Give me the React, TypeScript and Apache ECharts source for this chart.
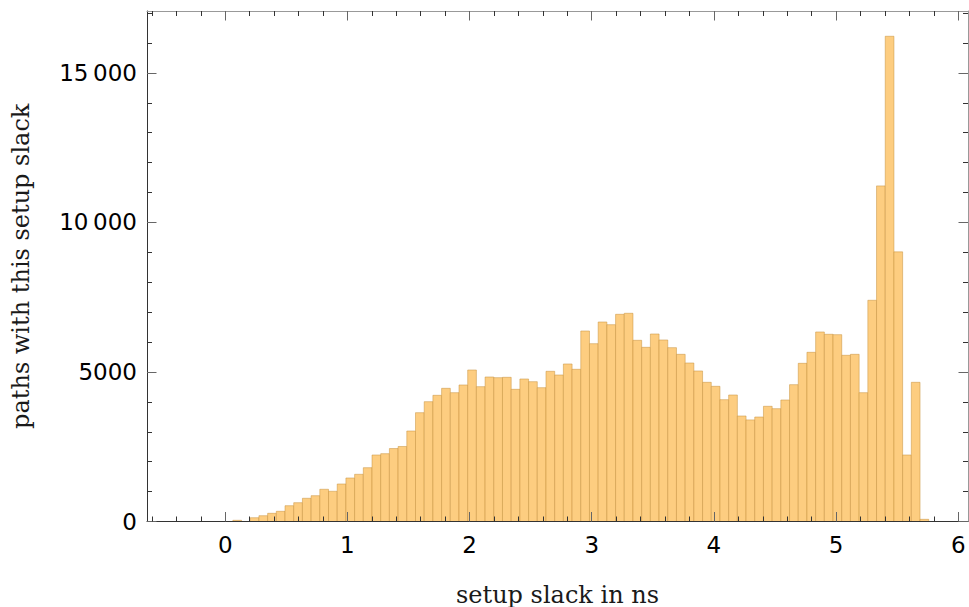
import React, { useEffect, useRef } from 'react';
import * as echarts from 'echarts';

// Histogram bins: 80 equal bins from the data minimum
const BIN_START = 0.0626;
const BIN_WIDTH = 0.0712;
const COUNTS = [
  40, 0, 127, 194, 274, 341, 528, 629, 776, 863,
  1077, 1010, 1254, 1455, 1578, 1799, 2224, 2268, 2440, 2508,
  3026, 3639, 4007, 4219, 4453, 4308, 4565, 5066, 4509, 4832,
  4810, 4821, 4420, 4765, 4676, 4475, 5022, 4899, 5267, 5089,
  6370, 5946, 6671, 6582, 6928, 6962, 6059, 5824, 6270, 6070,
  5813, 5590, 5300, 5033, 4654, 4520, 4074, 4230, 3528, 3398,
  3494, 3852, 3773, 4063, 4576, 5289, 5657, 6337, 6260, 6248,
  5557, 5590, 4308, 7397, 11222, 16225, 9016, 2224, 4654, 73,
];

const X_MAJOR_TICKS = [0, 1, 2, 3, 4, 5, 6];
const X_MINOR_TICKS = [-0.6, -0.4, -0.2, 0.2, 0.4, 0.6, 0.8, 1.2, 1.4, 1.6, 1.8, 2.2, 2.4, 2.6, 2.8, 3.2, 3.4, 3.6, 3.8, 4.2, 4.4, 4.6, 4.8, 5.2, 5.4, 5.6, 5.8];
const X_TICK_LABELS = ['0', '1', '2', '3', '4', '5', '6'];
const Y_MAJOR_TICKS = [0, 5000, 10000, 15000];
const Y_MINOR_TICKS = [1000, 2000, 3000, 4000, 6000, 7000, 8000, 9000, 11000, 12000, 13000, 14000, 16000, 17000];
const Y_TICK_LABELS = ['0', '5000', '10\u2009000', '15\u2009000'];

const X_MIN = -0.64;
const X_MAX = 6.08;
const Y_MIN = 0;
const Y_MAX = 17070;

const X_TITLE = 'setup slack in ns';
const Y_TITLE = 'paths with this setup slack';

const GRID = { left: 147, top: 11, right: 1, bottom: 85.5 };

export default function App() {
  const ref = useRef<HTMLDivElement>(null);

  useEffect(() => {
    if (!ref.current) return;
    const chart = echarts.init(ref.current, undefined, { renderer: 'svg' });

    const data = COUNTS.map((c, i) => [BIN_START + i * BIN_WIDTH, BIN_START + (i + 1) * BIN_WIDTH, c]);

    const tickFont = { fontFamily: 'DejaVu Sans', fontSize: 23, color: '#000' };
    const titleFont = { fontFamily: 'DejaVu Serif', fontSize: 24, color: '#1a1a1a' };

    const xAxisBase = (gridIndex: number, position: string) => ({
      type: 'value',
      gridIndex,
      position,
      min: X_MIN,
      max: X_MAX,
      z: 10,
      splitLine: { show: false },
    });
    const yAxisBase = (gridIndex: number, position: string) => ({
      type: 'value',
      gridIndex,
      position,
      min: Y_MIN,
      max: Y_MAX,
      z: 10,
      splitLine: { show: false },
    });

    const majorTick = (vals: number[]) => ({
      show: true,
      inside: true,
      length: 9.5,
      customValues: vals,
      lineStyle: { color: '#666', width: 1 },
    });
    const minorTick = (vals: number[]) => ({
      show: true,
      inside: true,
      length: 5,
      customValues: vals,
      lineStyle: { color: '#333', width: 1 },
    });

    const option: any = {
      animation: false,
      grid: [
        { ...GRID, containLabel: false, outerBoundsMode: 'none' },
        { ...GRID, containLabel: false, outerBoundsMode: 'none' },
      ],
      xAxis: [
        {
          ...xAxisBase(0, 'bottom'),
          axisLine: { show: true, onZero: false, lineStyle: { color: '#333', width: 1 } },
          axisTick: majorTick(X_MAJOR_TICKS),
          axisLabel: {
            show: true,
            margin: 12,
            customValues: X_MAJOR_TICKS,
            formatter: (v: number) => {
              const i = X_MAJOR_TICKS.indexOf(Math.round(v * 1000) / 1000);
              return i >= 0 ? X_TICK_LABELS[i] : '';
            },
            ...tickFont,
          },
          name: X_TITLE,
          nameLocation: 'middle',
          nameGap: 61,
          nameTextStyle: titleFont,
        },
        {
          ...xAxisBase(0, 'top'),
          axisLine: { show: true, onZero: false, lineStyle: { color: '#999', width: 1 } },
          axisTick: majorTick(X_MAJOR_TICKS),
          axisLabel: { show: false },
        },
        {
          ...xAxisBase(1, 'bottom'),
          axisLine: { show: false, onZero: false },
          axisTick: minorTick(X_MINOR_TICKS),
          axisLabel: { show: false },
        },
        {
          ...xAxisBase(1, 'top'),
          axisLine: { show: false, onZero: false },
          axisTick: minorTick(X_MINOR_TICKS),
          axisLabel: { show: false },
        },
      ],
      yAxis: [
        {
          ...yAxisBase(0, 'left'),
          axisLine: { show: true, onZero: false, lineStyle: { color: '#333', width: 1 } },
          axisTick: majorTick(Y_MAJOR_TICKS),
          axisLabel: {
            show: true,
            margin: 10,
            customValues: Y_MAJOR_TICKS,
            formatter: (v: number) => {
              const i = Y_MAJOR_TICKS.indexOf(Math.round(v));
              return i >= 0 ? Y_TICK_LABELS[i] : '';
            },
            ...tickFont,
          },
          name: Y_TITLE,
          nameLocation: 'middle',
          nameGap: 114,
          nameRotate: 90,
          nameTextStyle: titleFont,
        },
        {
          ...yAxisBase(0, 'right'),
          axisLine: { show: true, onZero: false, lineStyle: { color: '#999', width: 1 } },
          axisTick: majorTick(Y_MAJOR_TICKS),
          axisLabel: { show: false },
        },
        {
          ...yAxisBase(1, 'left'),
          axisLine: { show: false, onZero: false },
          axisTick: minorTick(Y_MINOR_TICKS),
          axisLabel: { show: false },
        },
        {
          ...yAxisBase(1, 'right'),
          axisLine: { show: false, onZero: false },
          axisTick: minorTick(Y_MINOR_TICKS),
          axisLabel: { show: false },
        },
      ],
      series: [
        {
          type: 'custom',
          xAxisIndex: 0,
          yAxisIndex: 0,
          clip: true,
          encode: { x: [0, 1], y: 2 },
          data,
          renderItem: (_params: any, api: any) => {
            const x0 = api.value(0);
            const x1 = api.value(1);
            const v = api.value(2);
            if (!v) return null;
            const p0 = api.coord([x0, v]);
            const p1 = api.coord([x1, 0]);
            return {
              type: 'rect',
              shape: { x: p0[0], y: p0[1], width: p1[0] - p0[0], height: p1[1] - p0[1] },
              style: { fill: '#FDCD80', stroke: 'rgba(200,145,60,0.5)', lineWidth: 1 },
            };
          },
        },
      ],
    };

    chart.setOption(option);
    return () => chart.dispose();
  }, []);

  return (
    <div
      ref={ref}
      style={{ position: 'fixed', left: 0, top: 0, width: 969, height: 607, background: '#fff' }}
    />
  );
}
